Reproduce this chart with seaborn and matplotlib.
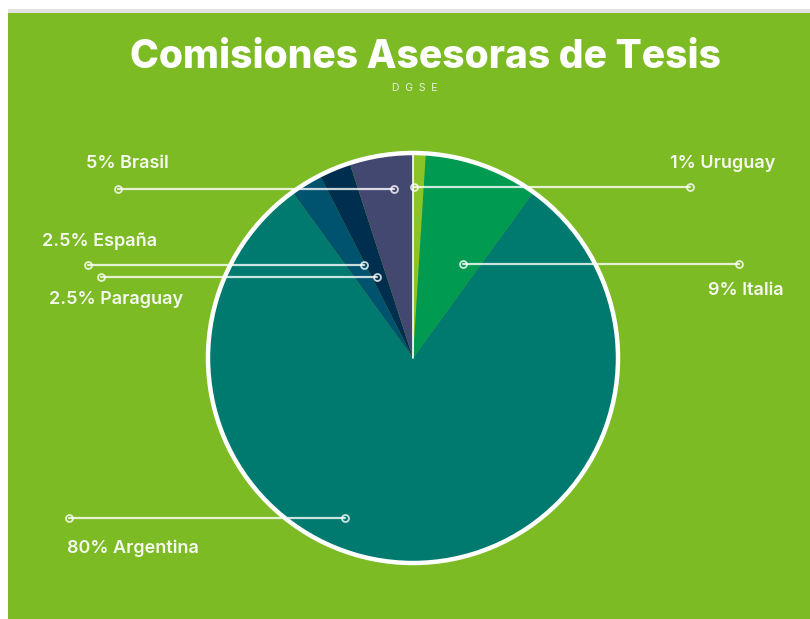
"""Pie chart: Comisiones Asesoras de Tesis (DGSE)."""

import matplotlib.pyplot as plt
import numpy as np
import seaborn as sns
from matplotlib.patches import Circle, Rectangle

sns.set_theme(style="white")
plt.rcParams["font.family"] = ["Inter", "DejaVu Sans"]

# data, clockwise from 12 o'clock
countries = ["Uruguay", "Italia", "Argentina", "Paraguay", "España", "Brasil"]
shares = [1, 9, 80, 2.5, 2.5, 5]
pct_labels = ["1%", "9%", "80%", "2.5%", "2.5%", "5%"]

SLICE_COLORS = ["#8ac426", "#009b50", "#00796f", "#00536f", "#002e4f", "#434870"]
BG_GREEN = "#7dbb25"

# leader layout: anchor inside slice (angle cw from top in deg, radius),
# side of the leader, label centre (axes data units, pie radius = 1)
anchor_angle = [0.3, 28.0, 203.0, -24.0, -27.8, -6.4]
anchor_radius = [0.834, 0.520, 0.848, 0.432, 0.513, 0.829]
leader_side = [1, 1, -1, -1, -1, -1]
label_pos = [(1.51, 0.951), (1.624, 0.327), (-1.366, -0.927),
             (-1.449, 0.283), (-1.529, 0.571), (-1.395, 0.951)]
LEADER_LEN = 1.346

fig = plt.figure(figsize=(8.1, 6.19), dpi=100)
fig.patch.set_facecolor("white")

# background panel (green card with a grey strip on top)
bg = fig.add_axes([0, 0, 1, 1], zorder=0)
bg.set_xlim(0, 810)
bg.set_ylim(619, 0)
bg.axis("off")
bg.add_patch(Rectangle((8, 13), 810, 620, facecolor=BG_GREEN, edgecolor="none"))
bg.add_patch(Rectangle((8, 9), 810, 4, facecolor="#e2e2e2", edgecolor="none"))

ax = fig.add_axes([0, 0, 1, 1], zorder=2)
ax.set_facecolor("none")

wedges, _ = ax.pie(shares, colors=SLICE_COLORS, startangle=90, counterclock=False,
                   radius=1.0, wedgeprops={"linewidth": 0})
scale = 205.0
cx, cy = 413.0, 358.0
ax.set_xlim(-cx / scale, (810 - cx) / scale)
ax.set_ylim((cy - 619) / scale, cy / scale)
ax.set_aspect("equal")
ax.axis("off")

# thin white seam at the start angle
ax.plot([0, 0], [0, 1], color="white", lw=1.2, zorder=3)
ax.add_patch(Circle((0, 0), 1.0, fill=False, edgecolor="white", lw=3.2, zorder=4))

for i, country in enumerate(countries):
    th = np.deg2rad(anchor_angle[i])
    x0 = anchor_radius[i] * np.sin(th)
    y0 = anchor_radius[i] * np.cos(th)
    x1 = x0 + leader_side[i] * LEADER_LEN
    ax.plot([x0, x1], [y0, y0], color="white", alpha=0.8, lw=1.6, marker="o", ms=5,
            mfc="none", mec="white", mew=1.3, zorder=5)
    lx, ly = label_pos[i]
    ax.text(lx, ly, f"{pct_labels[i]} {country}", ha="center", va="center",
            fontsize=13, fontweight="semibold", color="#f4f8ee", zorder=6)

fig.text(0.525, 1 - 57 / 619, "Comisiones Asesoras de Tesis", ha="center", va="center",
         fontsize=28, fontweight="heavy", color="white", zorder=6)
fig.text(0.512, 1 - 88 / 619, "D  G  S  E", ha="center", va="center",
         fontsize=7.5, color="#e6f0d6", zorder=6)

fig.savefig("out.png", dpi=100, facecolor=fig.get_facecolor())
